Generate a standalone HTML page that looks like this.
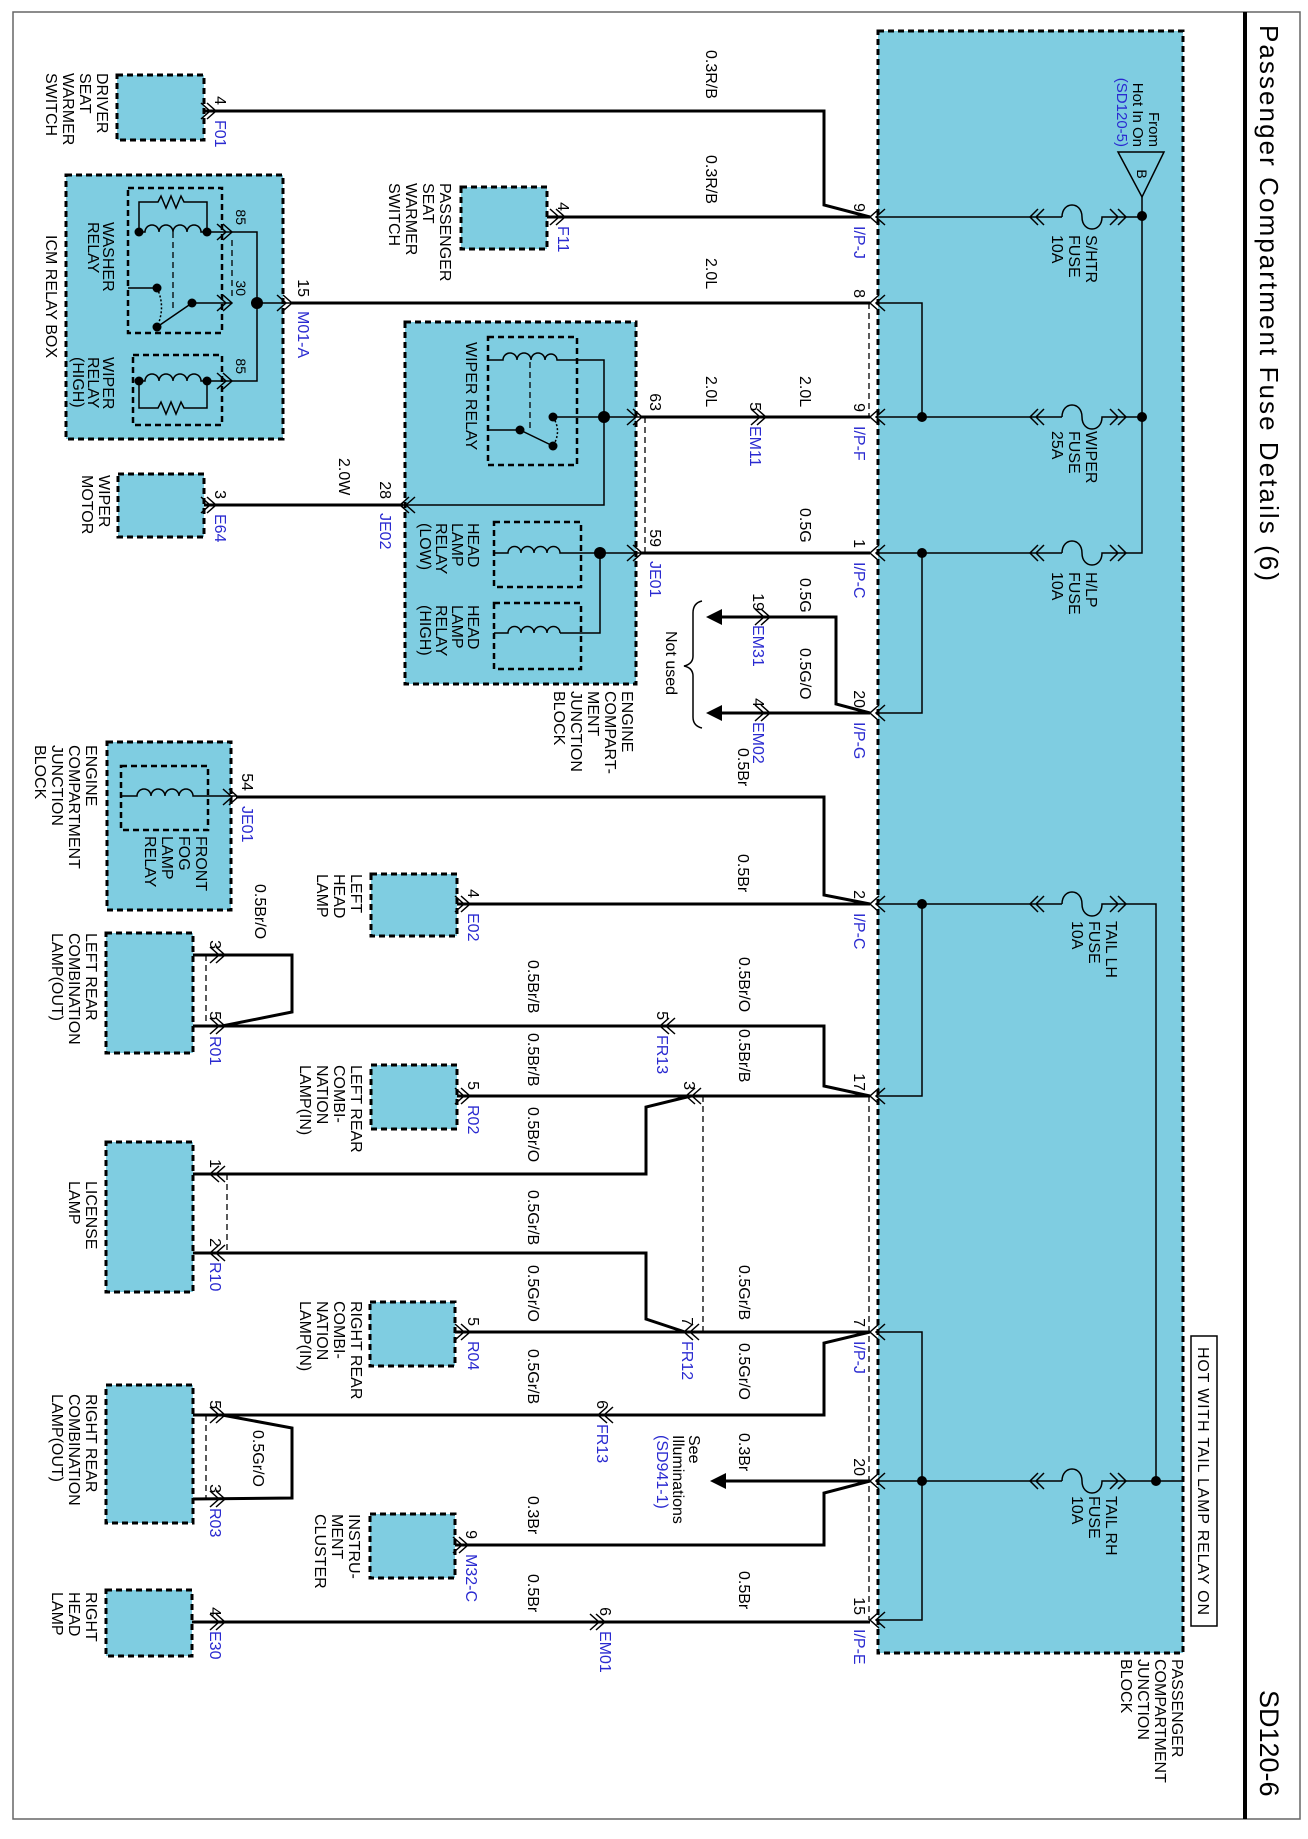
<!DOCTYPE html>
<html><head><meta charset="utf-8"><style>
html,body{margin:0;padding:0;background:#fff}
svg{display:block}
text{font-family:"Liberation Sans",Arial,sans-serif;font-size:16px;fill:#000}
.b{fill:#2a2ad0}
.p{font-size:15px}
.box{fill:#7fcde1;stroke:#000;stroke-width:3;stroke-dasharray:6 4}
.ib{fill:none;stroke:#000;stroke-width:2.5;stroke-dasharray:6 4}
.w{fill:none;stroke:#000;stroke-width:3}
.t{fill:none;stroke:#000;stroke-width:1.5}
.d{fill:none;stroke:#000;stroke-width:1.3;stroke-dasharray:6 4}
</style></head><body>
<svg width="1308" height="1839" viewBox="0 0 1308 1839" xmlns="http://www.w3.org/2000/svg">
<defs>
<g id="L"><path d="M9,-8 L0,0 L9,8 M15,-8 L6,0 L15,8" fill="none" stroke="#000" stroke-width="1.5"/></g>
<g id="R"><path d="M-9,-8 L0,0 L-9,8 M-15,-8 L-6,0 L-15,8" fill="none" stroke="#000" stroke-width="1.5"/></g>
<g id="F"><path d="M0,0 L32,0 M8,-8 L0,0 L8,8 M14,-8 L6,0 L14,8 M32,0 C32,-16 52,-16 52,0 C52,16 72,16 72,0 L96,0 M80,-8 L88,0 L80,8 M88,-8 L96,0 L88,8" fill="none" stroke="#000" stroke-width="1.5"/></g>
</defs>
<rect x="0" y="0" width="1308" height="1839" fill="#fff"/>
<rect x="13" y="12" width="1287" height="1807" fill="none" stroke="#666" stroke-width="1.5"/>
<line x1="1245" y1="12" x2="1245" y2="1819" stroke="#000" stroke-width="4"/>
<text x="1260" y="25" transform="rotate(90 1260 25)" style="font-size:26px" textLength="556">Passenger Compartment Fuse Details (6)</text>
<text x="1260" y="1690" transform="rotate(90 1260 1690)" style="font-size:27px">SD120-6</text>

<!-- boxes -->
<rect class="box" x="878" y="31" width="305" height="1622"/>
<rect class="box" x="117" y="75" width="87" height="65"/>
<rect class="box" x="66" y="175" width="217" height="264"/>
<rect class="box" x="461" y="187" width="86" height="62"/>
<rect class="box" x="405" y="322" width="231" height="362"/>
<rect class="box" x="118" y="474" width="86" height="63"/>
<rect class="box" x="107" y="742" width="124" height="168"/>
<rect class="box" x="371" y="874" width="86" height="62"/>
<rect class="box" x="106" y="933" width="87" height="120"/>
<rect class="box" x="371" y="1065" width="86" height="64"/>
<rect class="box" x="106" y="1142" width="87" height="150"/>
<rect class="box" x="370" y="1302" width="85" height="64"/>
<rect class="box" x="106" y="1385" width="87" height="138"/>
<rect class="box" x="370" y="1514" width="85" height="64"/>
<rect class="box" x="106" y="1590" width="86" height="66"/>
<rect class="ib" x="128" y="188" width="94" height="145"/>
<rect class="ib" x="133" y="355" width="89" height="70"/>
<rect class="ib" x="488" y="337" width="89" height="128"/>
<rect class="ib" x="494" y="522" width="87" height="65"/>
<rect class="ib" x="494" y="603" width="87" height="66"/>
<rect class="ib" x="121" y="766" width="87" height="64"/>
<rect x="1191" y="1336" width="26" height="290" fill="#fff" stroke="#000" stroke-width="1.5"/>

<!-- fuse block internals -->
<g class="t">
<path d="M877,217 L1030,217 M1126,217 L1142,217 M1142,197 L1142,553 L1126,553"/>
<path d="M877,303 L922,303 L922,417"/>
<path d="M877,417 L1030,417 M1126,417 L1142,417"/>
<path d="M877,553 L1030,553 M922,553 L922,713 L877,713"/>
<path d="M877,904 L1030,904 M1126,904 L1156,904 L1156,1481 M922,904 L922,1096 L877,1096"/>
<path d="M877,1332 L922,1332 L922,1620 L877,1620"/>
<path d="M877,1481 L1030,1481 M1126,1481 L1183,1481"/>
<path d="M1118,152 L1164,152 L1142,197 Z"/>
</g>
<use href="#F" x="1030" y="217"/><use href="#F" x="1030" y="417"/><use href="#F" x="1030" y="553"/>
<use href="#F" x="1030" y="904"/><use href="#F" x="1030" y="1481"/>
<g fill="#000">
<circle cx="1142" cy="216" r="5"/><circle cx="1142" cy="417" r="5"/><circle cx="922" cy="417" r="5"/>
<circle cx="922" cy="553" r="5"/><circle cx="922" cy="904" r="5"/><circle cx="922" cy="1481" r="5"/><circle cx="1156" cy="1481" r="5"/>
</g>

<!-- external wires -->
<g class="w">
<path d="M214,111 L824,111 L824,205 L870,217"/>
<path d="M562,217 L870,217"/>
<path d="M290,303 L870,303"/>
<path d="M640,417 L870,417"/>
<path d="M212,505 L403,505"/>
<path d="M640,553 L870,553"/>
<path d="M716,617 L836,617 L836,704 L870,713"/>
<path d="M716,713 L870,713"/>
<path d="M236,797 L824,797 L824,895 L870,904"/>
<path d="M465,904 L870,904"/>
<path d="M193,955 L292,955 L292,1012 L222,1026"/>
<path d="M193,1026 L824,1026 L824,1086 L870,1096"/>
<path d="M457,1096 L870,1096"/>
<path d="M691,1096 L646,1107 L646,1174 L193,1174"/>
<path d="M193,1253 L646,1253 L646,1319 L685,1332"/>
<path d="M455,1332 L870,1332"/>
<path d="M193,1415 L824,1415 L824,1343 L870,1332"/>
<path d="M222,1415 L292,1428 L292,1498 L193,1499"/>
<path d="M720,1481 L870,1481"/>
<path d="M455,1545 L824,1545 L824,1493 L870,1481"/>
<path d="M192,1622 L870,1622"/>
<path d="M204,111 L214,111 M547,217 L562,217 M204,505 L212,505 M457,904 L465,904"/>
</g>
<path d="M722,609 L706,617 L722,625 Z M722,705 L706,713 L722,721 Z M726,1473 L710,1481 L726,1489 Z" fill="#000"/>
<path d="M702,601 Q693,603 693,613 L693,656 Q693,664 684,666 Q693,668 693,676 L693,717 Q693,726 702,728" fill="none" stroke="#000" stroke-width="1.5"/>

<!-- dashed links -->
<path class="d" d="M869,303 L869,417 M645,417 L645,553 M869,1096 L869,1620 M703,1096 L703,1332 M206,955 L206,1026 M227,1174 L227,1253 M206,1415 L206,1499 M232,240 L232,296 M173,232 L173,308 M530,362 L530,428"/>

<!-- connectors -->
<use href="#L" x="870" y="217"/><use href="#L" x="870" y="303"/><use href="#L" x="870" y="417"/>
<use href="#L" x="870" y="553"/><use href="#L" x="870" y="713"/><use href="#L" x="870" y="904"/>
<use href="#L" x="870" y="1096"/><use href="#L" x="870" y="1332"/><use href="#L" x="870" y="1481"/><use href="#L" x="870" y="1620"/>
<use href="#R" x="216" y="111"/><use href="#R" x="565" y="217"/><use href="#R" x="292" y="303"/>
<use href="#R" x="216" y="505"/><use href="#L" x="400" y="505"/>
<use href="#R" x="642" y="417"/><use href="#R" x="642" y="553"/>
<use href="#R" x="766" y="417"/><use href="#R" x="770" y="617"/><use href="#R" x="770" y="713"/>
<use href="#R" x="238" y="797"/><use href="#R" x="470" y="904"/>
<use href="#R" x="225" y="955"/><use href="#R" x="225" y="1026"/><use href="#L" x="660" y="1026"/>
<use href="#R" x="470" y="1096"/><use href="#L" x="686" y="1096"/>
<use href="#L" x="210" y="1174"/><use href="#L" x="210" y="1253"/>
<use href="#L" x="684" y="1332"/><use href="#R" x="470" y="1332"/>
<use href="#L" x="598" y="1415"/><use href="#R" x="225" y="1415"/><use href="#R" x="225" y="1499"/>
<use href="#R" x="468" y="1545"/><use href="#R" x="225" y="1622"/><use href="#R" x="605" y="1622"/>
<use href="#R" x="232" y="232"/><use href="#R" x="232" y="303"/><use href="#R" x="232" y="381"/>

<!-- relay internals -->
<g class="t">
<path d="M139,232 L139,202 L158,202 l3,-6 l5,12 l5,-12 l5,12 l5,-12 l3,6 L207,202 L207,232"/>
<path d="M139,232 L145,232 a7,7 0 0 1 14,0 a7,7 0 0 1 14,0 a7,7 0 0 1 14,0 a7,7 0 0 1 14,0 L232,232"/>
<path d="M128,288 L157,288 M157,327 L192,303 L232,303"/>
<path d="M157,288 Q166,307 157,327" stroke-dasharray="2 2"/>
<path d="M139,381 L139,408 L158,408 l3,-6 l5,12 l5,-12 l5,12 l5,-12 l3,6 L207,408 L207,381"/>
<path d="M139,381 L145,381 a7,7 0 0 1 14,0 a7,7 0 0 1 14,0 a7,7 0 0 1 14,0 a7,7 0 0 1 14,0 L232,381"/>
<path d="M232,232 L257,232 L257,381 L232,381 M257,303 L290,303"/>
<path d="M488,360 L503,360 a7,7 0 0 1 14,0 a7,7 0 0 1 14,0 a7,7 0 0 1 14,0 a6,6 0 0 1 12,0 L604,360 L604,505 L403,505"/>
<path d="M553,417 L640,417 M488,430 L520,430 L553,446"/>
<path d="M553,417 Q562,431 553,446" stroke-dasharray="2 2"/>
<path d="M494,553 L508,553 a6.5,6.5 0 0 1 13,0 a6.5,6.5 0 0 1 13,0 a6.5,6.5 0 0 1 13,0 a6.5,6.5 0 0 1 13,0 L640,553 M600,553 L600,633 L560,633"/>
<path d="M494,633 L508,633 a6.5,6.5 0 0 1 13,0 a6.5,6.5 0 0 1 13,0 a6.5,6.5 0 0 1 13,0 a6.5,6.5 0 0 1 13,0"/>
<path d="M121,796 L137,796 a7,7 0 0 1 14,0 a7,7 0 0 1 14,0 a7,7 0 0 1 14,0 a7,7 0 0 1 14,0 L236,796"/>
</g>
<g fill="#000">
<circle cx="139" cy="232" r="4.5"/><circle cx="207" cy="232" r="4.5"/><circle cx="157" cy="288" r="4.5"/>
<circle cx="157" cy="327" r="4.5"/><circle cx="192" cy="303" r="4.5"/><circle cx="257" cy="303" r="6"/>
<circle cx="139" cy="381" r="4.5"/><circle cx="207" cy="381" r="4.5"/>
<circle cx="553" cy="417" r="4.5"/><circle cx="520" cy="430" r="4.5"/><circle cx="553" cy="446" r="4.5"/>
<circle cx="604" cy="417" r="6"/><circle cx="600" cy="553" r="6"/>
</g>

<!-- component labels -->
<text x="97" y="73" transform="rotate(90 97 73)">DRIVER<tspan x="97" dy="17">SEAT</tspan><tspan x="97" dy="17">WARMER</tspan><tspan x="97" dy="17">SWITCH</tspan></text>
<text x="440" y="183" transform="rotate(90 440 183)">PASSENGER<tspan x="440" dy="17">SEAT</tspan><tspan x="440" dy="17">WARMER</tspan><tspan x="440" dy="17">SWITCH</tspan></text>
<text x="46" y="235" transform="rotate(90 46 235)">ICM RELAY BOX</text>
<text x="103" y="222" transform="rotate(90 103 222)">WASHER<tspan x="103" dy="15">RELAY</tspan></text>
<text x="103" y="357" transform="rotate(90 103 357)">WIPER<tspan x="103" dy="15">RELAY</tspan><tspan x="103" dy="15">(HIGH)</tspan></text>
<text x="466" y="342" transform="rotate(90 466 342)">WIPER RELAY</text>
<text x="468" y="523" transform="rotate(90 468 523)">HEAD<tspan x="468" dy="16">LAMP</tspan><tspan x="468" dy="16">RELAY</tspan><tspan x="468" dy="16">(LOW)</tspan></text>
<text x="468" y="605" transform="rotate(90 468 605)">HEAD<tspan x="468" dy="16">LAMP</tspan><tspan x="468" dy="16">RELAY</tspan><tspan x="468" dy="16">(HIGH)</tspan></text>
<text x="622" y="691" transform="rotate(90 622 691)">ENGINE<tspan x="622" dy="17">COMPART-</tspan><tspan x="622" dy="17">MENT</tspan><tspan x="622" dy="17">JUNCTION</tspan><tspan x="622" dy="17">BLOCK</tspan></text>
<text x="99" y="475" transform="rotate(90 99 475)">WIPER<tspan x="99" dy="17">MOTOR</tspan></text>
<text x="196" y="836" transform="rotate(90 196 836)">FRONT<tspan x="196" dy="17">FOG</tspan><tspan x="196" dy="17">LAMP</tspan><tspan x="196" dy="17">RELAY</tspan></text>
<text x="86" y="745" transform="rotate(90 86 745)">ENGINE<tspan x="86" dy="17">COMPARTMENT</tspan><tspan x="86" dy="17">JUNCTION</tspan><tspan x="86" dy="17">BLOCK</tspan></text>
<text x="351" y="874" transform="rotate(90 351 874)">LEFT<tspan x="351" dy="17">HEAD</tspan><tspan x="351" dy="17">LAMP</tspan></text>
<text x="86" y="933" transform="rotate(90 86 933)">LEFT REAR<tspan x="86" dy="17">COMBINATION</tspan><tspan x="86" dy="17">LAMP(OUT)</tspan></text>
<text x="351" y="1065" transform="rotate(90 351 1065)">LEFT REAR<tspan x="351" dy="17">COMBI-</tspan><tspan x="351" dy="17">NATION</tspan><tspan x="351" dy="17">LAMP(IN)</tspan></text>
<text x="86" y="1181" transform="rotate(90 86 1181)">LICENSE<tspan x="86" dy="17">LAMP</tspan></text>
<text x="351" y="1301" transform="rotate(90 351 1301)">RIGHT REAR<tspan x="351" dy="17">COMBI-</tspan><tspan x="351" dy="17">NATION</tspan><tspan x="351" dy="17">LAMP(IN)</tspan></text>
<text x="86" y="1394" transform="rotate(90 86 1394)">RIGHT REAR<tspan x="86" dy="17">COMBINATION</tspan><tspan x="86" dy="17">LAMP(OUT)</tspan></text>
<text x="349" y="1514" transform="rotate(90 349 1514)">INSTRU-<tspan x="349" dy="17">MENT</tspan><tspan x="349" dy="17">CLUSTER</tspan></text>
<text x="86" y="1592" transform="rotate(90 86 1592)">RIGHT<tspan x="86" dy="17">HEAD</tspan><tspan x="86" dy="17">LAMP</tspan></text>
<text x="1172" y="1659" transform="rotate(90 1172 1659)">PASSENGER<tspan x="1172" dy="17">COMPARTMENT</tspan><tspan x="1172" dy="17">JUNCTION</tspan><tspan x="1172" dy="17">BLOCK</tspan></text>
<text x="1198" y="1481" transform="rotate(90 1198 1481)" text-anchor="middle" textLength="268">HOT WITH TAIL LAMP RELAY ON</text>

<!-- fuse labels -->
<text x="1086" y="235" transform="rotate(90 1086 235)">S/HTR<tspan x="1086" dy="17">FUSE</tspan><tspan x="1086" dy="17">10A</tspan></text>
<text x="1086" y="431" transform="rotate(90 1086 431)">WIPER<tspan x="1086" dy="17">FUSE</tspan><tspan x="1086" dy="17">25A</tspan></text>
<text x="1086" y="572" transform="rotate(90 1086 572)">H/LP<tspan x="1086" dy="17">FUSE</tspan><tspan x="1086" dy="17">10A</tspan></text>
<text x="1106" y="921" transform="rotate(90 1106 921)">TAIL LH<tspan x="1106" dy="17">FUSE</tspan><tspan x="1106" dy="17">10A</tspan></text>
<text x="1106" y="1496" transform="rotate(90 1106 1496)">TAIL RH<tspan x="1106" dy="17">FUSE</tspan><tspan x="1106" dy="17">10A</tspan></text>
<text x="1149" y="147" transform="rotate(90 1149 147)" text-anchor="end" style="font-size:15px">From</text>
<text x="1133" y="147" transform="rotate(90 1133 147)" text-anchor="end" style="font-size:15px">Hot In On</text>
<text class="b" x="1117" y="147" transform="rotate(90 1117 147)" text-anchor="end" style="font-size:15px">(SD120-5)</text>
<text x="1137" y="174" transform="rotate(90 1137 174)" text-anchor="middle" style="font-size:14px">B</text>
<text x="666" y="631" transform="rotate(90 666 631)">Not used</text>
<text x="689" y="1435" transform="rotate(90 689 1435)">See<tspan x="689" dy="16">Illuminations</tspan><tspan class="b" x="689" dy="16">(SD941-1)</tspan></text>

<!-- wire labels -->
<g>
<text x="706" y="50" transform="rotate(90 706 50)">0.3R/B</text>
<text x="706" y="155" transform="rotate(90 706 155)">0.3R/B</text>
<text x="706" y="258" transform="rotate(90 706 258)">2.0L</text>
<text x="706" y="376" transform="rotate(90 706 376)">2.0L</text>
<text x="800" y="376" transform="rotate(90 800 376)">2.0L</text>
<text x="800" y="508" transform="rotate(90 800 508)">0.5G</text>
<text x="800" y="578" transform="rotate(90 800 578)">0.5G</text>
<text x="800" y="648" transform="rotate(90 800 648)">0.5G/O</text>
<text x="339" y="458" transform="rotate(90 339 458)">2.0W</text>
<text x="738" y="748" transform="rotate(90 738 748)">0.5Br</text>
<text x="738" y="854" transform="rotate(90 738 854)">0.5Br</text>
<text x="739" y="957" transform="rotate(90 739 957)">0.5Br/O</text>
<text x="739" y="1029" transform="rotate(90 739 1029)">0.5Br/B</text>
<text x="739" y="1265" transform="rotate(90 739 1265)">0.5Gr/B</text>
<text x="739" y="1343" transform="rotate(90 739 1343)">0.5Gr/O</text>
<text x="739" y="1433" transform="rotate(90 739 1433)">0.3Br</text>
<text x="739" y="1571" transform="rotate(90 739 1571)">0.5Br</text>
<text x="528" y="960" transform="rotate(90 528 960)">0.5Br/B</text>
<text x="528" y="1033" transform="rotate(90 528 1033)">0.5Br/B</text>
<text x="528" y="1107" transform="rotate(90 528 1107)">0.5Br/O</text>
<text x="528" y="1190" transform="rotate(90 528 1190)">0.5Gr/B</text>
<text x="528" y="1265" transform="rotate(90 528 1265)">0.5Gr/O</text>
<text x="528" y="1349" transform="rotate(90 528 1349)">0.5Gr/B</text>
<text x="528" y="1496" transform="rotate(90 528 1496)">0.3Br</text>
<text x="528" y="1574" transform="rotate(90 528 1574)">0.5Br</text>
<text x="255" y="884" transform="rotate(90 255 884)">0.5Br/O</text>
<text x="253" y="1430" transform="rotate(90 253 1430)">0.5Gr/O</text>
</g>

<!-- pin numbers -->
<g class="p">
<text x="854" y="212" transform="rotate(90 854 212)" text-anchor="end">9</text>
<text x="854" y="298" transform="rotate(90 854 298)" text-anchor="end">8</text>
<text x="854" y="412" transform="rotate(90 854 412)" text-anchor="end">9</text>
<text x="854" y="548" transform="rotate(90 854 548)" text-anchor="end">1</text>
<text x="854" y="708" transform="rotate(90 854 708)" text-anchor="end">20</text>
<text x="854" y="899" transform="rotate(90 854 899)" text-anchor="end">2</text>
<text x="854" y="1091" transform="rotate(90 854 1091)" text-anchor="end">17</text>
<text x="854" y="1327" transform="rotate(90 854 1327)" text-anchor="end">7</text>
<text x="854" y="1476" transform="rotate(90 854 1476)" text-anchor="end">20</text>
<text x="854" y="1615" transform="rotate(90 854 1615)" text-anchor="end">15</text>
<text x="215" y="105" transform="rotate(90 215 105)" text-anchor="end">4</text>
<text x="558" y="211" transform="rotate(90 558 211)" text-anchor="end">4</text>
<text x="298" y="297" transform="rotate(90 298 297)" text-anchor="end">15</text>
<text x="236" y="225" transform="rotate(90 236 225)" text-anchor="end" style="font-size:14px">85</text>
<text x="236" y="296" transform="rotate(90 236 296)" text-anchor="end" style="font-size:14px">30</text>
<text x="236" y="374" transform="rotate(90 236 374)" text-anchor="end" style="font-size:14px">85</text>
<text x="215" y="499" transform="rotate(90 215 499)" text-anchor="end">3</text>
<text x="380" y="499" transform="rotate(90 380 499)" text-anchor="end">28</text>
<text x="650" y="411" transform="rotate(90 650 411)" text-anchor="end">63</text>
<text x="650" y="547" transform="rotate(90 650 547)" text-anchor="end">59</text>
<text x="750" y="411" transform="rotate(90 750 411)" text-anchor="end">5</text>
<text x="753" y="611" transform="rotate(90 753 611)" text-anchor="end">19</text>
<text x="753" y="707" transform="rotate(90 753 707)" text-anchor="end">4</text>
<text x="242" y="791" transform="rotate(90 242 791)" text-anchor="end">54</text>
<text x="468" y="898" transform="rotate(90 468 898)" text-anchor="end">4</text>
<text x="210" y="949" transform="rotate(90 210 949)" text-anchor="end">3</text>
<text x="210" y="1020" transform="rotate(90 210 1020)" text-anchor="end">5</text>
<text x="657" y="1020" transform="rotate(90 657 1020)" text-anchor="end">5</text>
<text x="468" y="1090" transform="rotate(90 468 1090)" text-anchor="end">5</text>
<text x="684" y="1090" transform="rotate(90 684 1090)" text-anchor="end">3</text>
<text x="210" y="1168" transform="rotate(90 210 1168)" text-anchor="end">1</text>
<text x="210" y="1247" transform="rotate(90 210 1247)" text-anchor="end">2</text>
<text x="682" y="1326" transform="rotate(90 682 1326)" text-anchor="end">7</text>
<text x="468" y="1326" transform="rotate(90 468 1326)" text-anchor="end">5</text>
<text x="597" y="1409" transform="rotate(90 597 1409)" text-anchor="end">6</text>
<text x="210" y="1409" transform="rotate(90 210 1409)" text-anchor="end">5</text>
<text x="210" y="1493" transform="rotate(90 210 1493)" text-anchor="end">3</text>
<text x="466" y="1539" transform="rotate(90 466 1539)" text-anchor="end">9</text>
<text x="210" y="1616" transform="rotate(90 210 1616)" text-anchor="end">4</text>
<text x="600" y="1616" transform="rotate(90 600 1616)" text-anchor="end">6</text>
</g>

<!-- connector labels (blue) -->
<g class="b p">
<text class="b" x="854" y="226" transform="rotate(90 854 226)">I/P-J</text>
<text class="b" x="854" y="426" transform="rotate(90 854 426)">I/P-F</text>
<text class="b" x="854" y="562" transform="rotate(90 854 562)">I/P-C</text>
<text class="b" x="854" y="722" transform="rotate(90 854 722)">I/P-G</text>
<text class="b" x="854" y="913" transform="rotate(90 854 913)">I/P-C</text>
<text class="b" x="854" y="1341" transform="rotate(90 854 1341)">I/P-J</text>
<text class="b" x="854" y="1629" transform="rotate(90 854 1629)">I/P-E</text>
<text class="b" x="215" y="120" transform="rotate(90 215 120)">F01</text>
<text class="b" x="558" y="226" transform="rotate(90 558 226)">F11</text>
<text class="b" x="298" y="311" transform="rotate(90 298 311)">M01-A</text>
<text class="b" x="215" y="514" transform="rotate(90 215 514)">E64</text>
<text class="b" x="380" y="513" transform="rotate(90 380 513)">JE02</text>
<text class="b" x="650" y="561" transform="rotate(90 650 561)">JE01</text>
<text class="b" x="750" y="426" transform="rotate(90 750 426)">EM11</text>
<text class="b" x="753" y="625" transform="rotate(90 753 625)">EM31</text>
<text class="b" x="753" y="722" transform="rotate(90 753 722)">EM02</text>
<text class="b" x="242" y="806" transform="rotate(90 242 806)">JE01</text>
<text class="b" x="468" y="913" transform="rotate(90 468 913)">E02</text>
<text class="b" x="210" y="1036" transform="rotate(90 210 1036)">R01</text>
<text class="b" x="657" y="1035" transform="rotate(90 657 1035)">FR13</text>
<text class="b" x="468" y="1105" transform="rotate(90 468 1105)">R02</text>
<text class="b" x="210" y="1262" transform="rotate(90 210 1262)">R10</text>
<text class="b" x="682" y="1341" transform="rotate(90 682 1341)">FR12</text>
<text class="b" x="468" y="1341" transform="rotate(90 468 1341)">R04</text>
<text class="b" x="597" y="1424" transform="rotate(90 597 1424)">FR13</text>
<text class="b" x="210" y="1508" transform="rotate(90 210 1508)">R03</text>
<text class="b" x="466" y="1554" transform="rotate(90 466 1554)">M32-C</text>
<text class="b" x="210" y="1631" transform="rotate(90 210 1631)">E30</text>
<text class="b" x="600" y="1631" transform="rotate(90 600 1631)">EM01</text>
</g>
</svg>
</body></html>
